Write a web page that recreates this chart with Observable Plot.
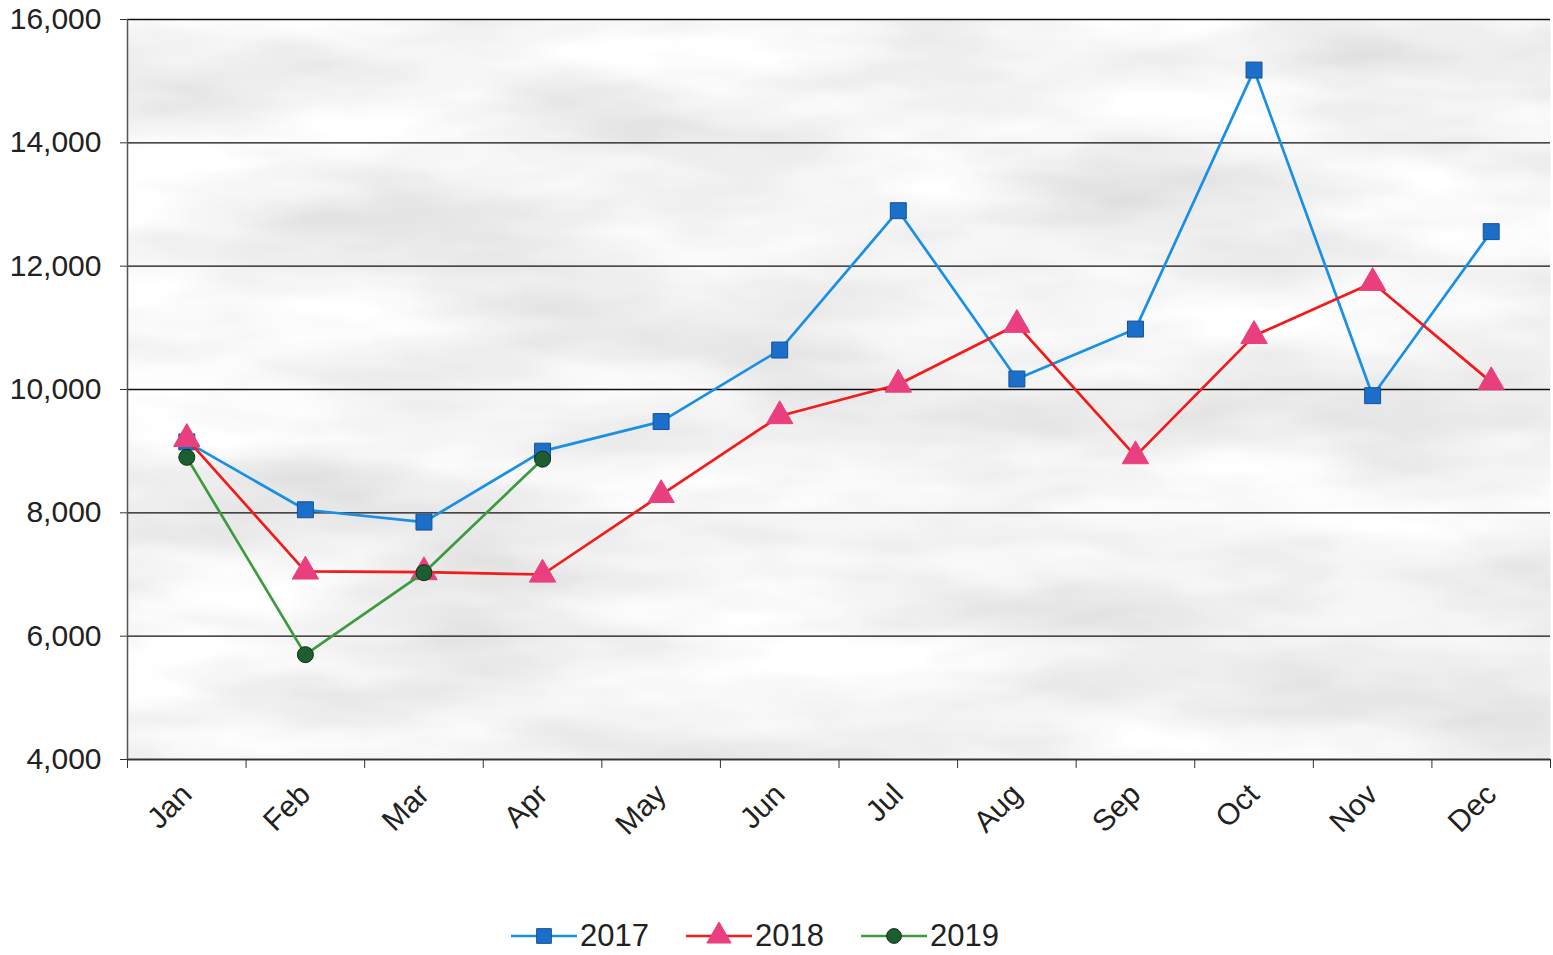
<!DOCTYPE html>
<html>
<head>
<meta charset="utf-8">
<script src="https://cdn.jsdelivr.net/npm/d3@7"></script>
<script src="https://cdn.jsdelivr.net/npm/@observablehq/plot@0.6"></script>
<style>
  html, body { margin: 0; padding: 0; background: #fff; }
  body { width: 1553px; height: 955px; overflow: hidden; font-family: "Liberation Sans", Arial, sans-serif; }
  #chart { position: absolute; left: 0; top: 0; }
  #legend { position: absolute; left: 511px; top: 918px; display: flex; gap: 37px; font-size: 31px; color: #222; line-height: 36px; }
  .item { display: flex; align-items: center; gap: 3px; }
</style>
</head>
<body>
<div id="chart"></div>
<div id="legend"></div>
<script>
const months = ["Jan","Feb","Mar","Apr","May","Jun","Jul","Aug","Sep","Oct","Nov","Dec"];
const years = ["2017", "2018", "2019"];
const values2017 = [9150, 8050, 7850, 9000, 9480, 10640, 12900, 10170, 10980, 15180, 9900, 12560];
const values2018 = [9200, 7050, 7040, 7000, 8290, 9570, 10080, 11050, 8920, 10870, 11730, 10120];
const values2019 = [8900, 5700, 7030, 8870];
const yTicks = [4000, 6000, 8000, 10000, 12000, 14000, 16000];

const toRows = (vals, year) => vals.map((v, i) => ({month: months[i], pos: i + 0.5, value: v, year}));
const rows2017 = toRows(values2017, "2017");
const rows2018 = toRows(values2018, "2018");
const rows2019 = toRows(values2019, "2019");

const styles = {
  "2017": {line: "#1a8fe6", fill: "#1c6fc8", stroke: "#13519a", symbol: "square", r: 9},
  "2018": {line: "#f21a1a", fill: "#ea3f7e", stroke: "#ea3f7e", symbol: "triangle", r: 9.8},
  "2019": {line: "#3e9a40", fill: "#1d5e30", stroke: "#0d2e15", symbol: "circle", r: 8}
};

const seriesMarks = (rows, year) => {
  const s = styles[year];
  return [
    Plot.line(rows, {x: "pos", y: "value", stroke: s.line, strokeWidth: 2.7}),
    Plot.dot(rows, {x: "pos", y: "value", symbol: () => s.symbol, r: s.r, fill: s.fill, stroke: s.stroke, strokeWidth: 1})
  ];
};

const chart = Plot.plot({
  width: 1553,
  height: 880,
  marginLeft: 127,
  marginRight: 3,
  marginTop: 19,
  marginBottom: 121,
  style: {fontFamily: "'Liberation Sans', Arial, sans-serif", background: "transparent", color: "#222"},
  x: {type: "linear", domain: [0, 12]},
  y: {domain: [4000, 16000]},
  marks: [
    Plot.frame({fill: "#e3e3e3", stroke: null}),
    Plot.gridY(yTicks, {stroke: "#111", strokeOpacity: 1, strokeWidth: 1.4}),
    Plot.ruleX([0], {stroke: "#555", strokeWidth: 1.5}),
    Plot.ruleY([4000], {stroke: "#333", strokeWidth: 1.5}),
    Plot.axisY({ticks: yTicks, tickFormat: d3.format(","), tickSize: 7, tickPadding: 19, fontSize: 30, label: null, stroke: "#333"}),
    Plot.axisX({ticks: d3.range(13), tickFormat: () => "", tickSize: 9, label: null, stroke: "#333"}),
    Plot.axisX({ticks: d3.range(12).map(i => i + 0.5), tickFormat: p => months[Math.floor(p)], tickSize: 0, tickPadding: 30, tickRotate: -45, fontSize: 30, label: null}),
    ...seriesMarks(rows2017, "2017"),
    ...seriesMarks(rows2018, "2018"),
    ...seriesMarks(rows2019, "2019")
  ]
});
document.getElementById("chart").appendChild(chart);

// mottled paper-like texture for the plot background (style only)
const svgSel = d3.select(chart);
const defs = svgSel.insert("defs", ":first-child");
const f = defs.append("filter").attr("id", "tex").attr("x", 0).attr("y", 0).attr("width", 1).attr("height", 1);
f.append("feTurbulence").attr("type", "fractalNoise").attr("baseFrequency", "0.003 0.011").attr("numOctaves", 4).attr("seed", 7).attr("result", "n");
f.append("feColorMatrix").attr("in", "n").attr("type", "matrix")
  .attr("values", "0.5 0 0 0 0.645  0.5 0 0 0 0.645  0.5 0 0 0 0.645  0 0 0 0 1").attr("result", "g");
f.append("feComposite").attr("in", "g").attr("in2", "SourceGraphic").attr("operator", "in");
svgSel.selectAll("rect").filter(function() { return d3.select(this).attr("fill") === "#e3e3e3"; }).attr("filter", "url(#tex)");

// Legend
const legend = d3.select("#legend");
const symMap = {square: d3.symbolSquare, triangle: d3.symbolTriangle, circle: d3.symbolCircle};
years.forEach(y => {
  const s = styles[y];
  const item = legend.append("div").attr("class", "item");
  const svg = item.append("svg").attr("width", 66).attr("height", 30);
  svg.append("line").attr("x1", 0).attr("x2", 66).attr("y1", 15).attr("y2", 15).attr("stroke", s.line).attr("stroke-width", 2.7);
  svg.append("path").attr("transform", "translate(33,15)")
    .attr("d", d3.symbol(symMap[s.symbol], Math.PI * s.r * s.r * 0.85)())
    .attr("fill", s.fill).attr("stroke", s.stroke);
  item.append("span").text(y);
});
</script>
</body>
</html>
